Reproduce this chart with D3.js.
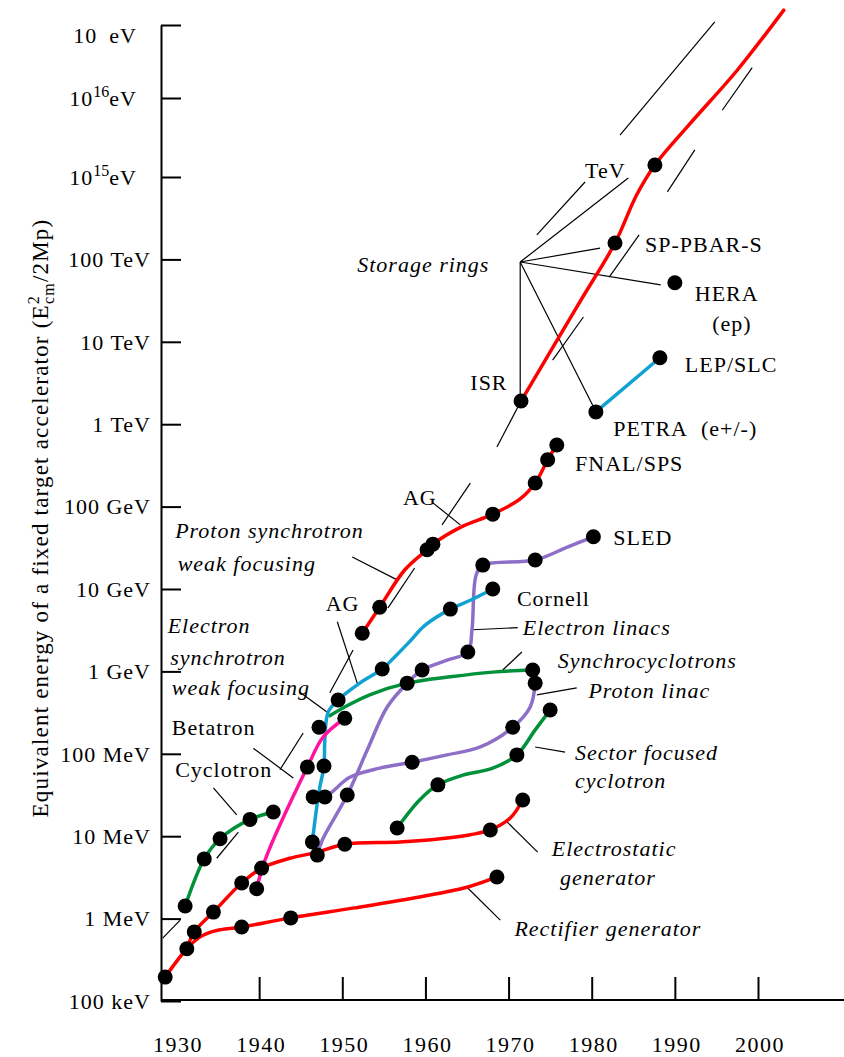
<!DOCTYPE html>
<html>
<head>
<meta charset="utf-8">
<script src="https://cdn.jsdelivr.net/npm/d3@7"></script>
<style>
  body { margin: 0; background: #fff; }
  text { font-family: "Liberation Serif", "Times New Roman", serif; fill: #000; }
</style>
</head>
<body>
<div id="chart"></div>
<script>
// Livingston plot: equivalent fixed-target energy vs year

var svgWidth = 844;
var svgHeight = 1057;

// axis ticks
var yearLabels = [1930, 1940, 1950, 1960, 1970, 1980, 1990, 2000];
var yearTicks = [1940, 1950, 1960, 1970, 1980, 1990, 2000];
var energyTicks = [1e17, 1e16, 1e15, 1e14, 1e13, 1e12, 1e11, 1e10, 1e9, 1e8, 1e7, 1e6, 1e5];
var energyLabels = ["10^\u00a0\u00a0 ^eV", "10^16^eV", "10^15^eV", "100 TeV", "10 TeV", "1 TeV",
  "100 GeV", "10 GeV", "1 GeV", "100 MeV", "10 MeV", "1 MeV", "100 keV"];

// series: [year, energy in eV, marker]
var rectifierGen = [[1928.7, 1.95e5, 1], [1931.3, 4.3e5, 1], [1932.9, 6.0e5, 0], [1934.7, 7.1e5, 0],
  [1937.9, 7.9e5, 1], [1943.8, 1.02e6, 1], [1951.5, 1.35e6, 0], [1959.3, 1.83e6, 0],
  [1965.0, 2.4e6, 0], [1968.6, 3.2e6, 1]];

var electrostaticGen = [[1931.3, 4.3e5, 0], [1932.2, 6.9e5, 1], [1934.5, 1.2e6, 1], [1937.9, 2.7e6, 1],
  [1940.3, 4.1e6, 1], [1943.7, 5.4e6, 0], [1947.0, 6.4e6, 0], [1950.3, 8.0e6, 1], [1956.9, 8.5e6, 0],
  [1961.8, 9.3e6, 0], [1965.4, 1.04e7, 0], [1967.8, 1.19e7, 1], [1970.2, 1.66e7, 0], [1971.7, 2.75e7, 1]];

var cyclotron = [[1931.1, 1.42e6, 1], [1933.4, 5.3e6, 1], [1935.3, 9.3e6, 1], [1938.9, 1.6e7, 1],
  [1941.7, 1.97e7, 1]];

var betatron = [[1939.7, 2.3e6, 1], [1940.7, 5.1e6, 0], [1945.8, 6.9e7, 1], [1947.7, 1.6e8, 0],
  [1950.3, 2.7e8, 1]];

var electronSynchrotron = [[1946.4, 8.5e6, 1], [1946.8, 1.81e7, 0], [1947.3, 3.95e7, 0], [1947.8, 7.1e7, 1],
  [1947.9, 1.47e8, 0], [1948.3, 3.2e8, 0], [1949.5, 4.5e8, 1], [1952.1, 7.2e8, 0], [1954.8, 1.07e9, 1],
  [1956.3, 1.5e9, 0], [1958.1, 2.3e9, 0], [1959.9, 3.6e9, 0], [1963.0, 5.7e9, 1], [1965.4, 7.3e9, 0],
  [1968.1, 1.0e10, 1]];

var synchrocyclotron = [[1948.5, 2.9e8, 0], [1950.3, 3.7e8, 0], [1953.3, 5.2e8, 0], [1957.8, 7.2e8, 0],
  [1963.0, 8.6e8, 0], [1968.1, 9.8e8, 0], [1972.9, 1.04e9, 1]];

var electronLinac = [[1947.0, 5.9e6, 1], [1947.6, 9.0e6, 0], [1950.6, 3.16e7, 1], [1953.0, 1.11e8, 0],
  [1955.4, 3.7e8, 0], [1957.8, 7.2e8, 1], [1959.6, 1.04e9, 1], [1962.6, 1.37e9, 0], [1965.1, 1.72e9, 1],
  [1965.6, 3.2e9, 0], [1966.1, 1.48e10, 0], [1966.9, 1.95e10, 1], [1973.2, 2.25e10, 1],
  [1977.0, 3.2e10, 0], [1980.2, 4.3e10, 1]];

var protonLinac = [[1946.5, 3.0e7, 1], [1947.9, 3.0e7, 1], [1950.9, 5.2e7, 0], [1954.5, 6.7e7, 0],
  [1958.4, 7.9e7, 1], [1962.6, 9.7e7, 0], [1966.6, 1.21e8, 0], [1970.5, 2.1e8, 1], [1972.6, 3.7e8, 0],
  [1973.2, 7.2e8, 1]];

var sectorCyclotron = [[1956.6, 1.26e7, 1], [1959.3, 2.75e7, 0], [1961.5, 4.2e7, 1], [1964.5, 5.5e7, 0],
  [1968.1, 6.7e7, 0], [1971.0, 9.7e7, 1], [1973.2, 1.95e8, 0], [1975.0, 3.4e8, 1]];

var protonSynchrotron = [[1952.4, 2.9e9, 1], [1954.5, 6.0e9, 1], [1957.5, 1.7e10, 0], [1960.2, 3.0e10, 1],
  [1960.9, 3.5e10, 1], [1964.2, 5.6e10, 0], [1968.1, 8.1e10, 1], [1971.4, 1.24e11, 0], [1973.2, 1.93e11, 1],
  [1974.7, 3.7e11, 1], [1975.8, 5.6e11, 1]];

var hadronColliders = [[1971.5, 1.91e12, 1], [1978.7, 3.2e13, 0], [1982.8, 1.58e14, 1], [1985.4, 6.05e14, 0],
  [1987.6, 1.42e15, 1], [1991.8, 4.7e15, 0], [1997.5, 2.4e16, 0], [2003.1, 1.6e17, 0]];

var leptonColliders = [[1980.5, 1.41e12, 1], [1988.2, 6.4e12, 1]];

var singleDots = [[1947.2, 2.1e8], [1990.0, 5.2e13]];

// labels: [text, year, energy]
var uprightLabels = [["Betatron", 1929.5, 2.1e8], ["Cyclotron", 1929.9, 6.4e7], ["TeV", 1979.2, 1.23e15],
  ["SP-PBAR-S", 1986.4, 1.54e14], ["HERA", 1992.4, 3.9e13], ["(ep)", 1994.5, 1.69e13],
  ["LEP/SLC", 1991.2, 5.4e12], ["ISR", 1965.4, 3.2e12], ["PETRA\u00a0 (e+/-)", 1982.6, 9.0e11],
  ["FNAL/SPS", 1978.0, 3.4e11], ["AG", 1957.3, 1.31e11], ["SLED", 1982.6, 4.3e10],
  ["Cornell", 1971.0, 7.8e9], ["AG", 1948.0, 6.8e9]];

var italicLabels = [["Proton synchrotron", 1929.9, 5.2e10], ["weak focusing", 1930.2, 2.07e10],
  ["Electron", 1929.0, 3.66e9], ["synchrotron", 1929.3, 1.5e9], ["weak focusing", 1929.5, 6.5e8],
  ["Storage rings", 1951.8, 8.6e13], ["Electron linacs", 1971.7, 3.4e9],
  ["Synchrocyclotrons", 1975.9, 1.37e9], ["Proton linac", 1979.6, 5.9e8],
  ["Sector focused", 1978.0, 1.05e8], ["cyclotron", 1978.0, 4.8e7], ["Electrostatic", 1975.2, 7.2e6],
  ["generator", 1976.2, 3.2e6], ["Rectifier generator", 1970.7, 7.7e5]];

// thin leader / trend lines: [[year, eV], [year, eV]]
var leaderLines = [
  [[1928.4, 5.8e5], [1930.5, 9.6e5]],
  [[1934.9, 5.4e6], [1937.5, 1.12e7]],
  [[1934.5, 3.85e7], [1937.3, 1.81e7]],
  [[1939.3, 1.17e8], [1944.1, 5.1e7]],
  [[1942.5, 6.4e7], [1945.3, 1.79e8]],
  [[1944.9, 5.6e8], [1948.2, 3.2e8]],
  [[1949.4, 4.0e9], [1951.8, 7.2e8]],
  [[1948.5, 5.5e8], [1951.3, 1.82e9]],
  [[1951.2, 2.44e10], [1956.6, 1.29e10]],
  [[1955.5, 5.9e9], [1958.7, 1.8e10]],
  [[1960.9, 1.11e11], [1964.2, 6.0e10]],
  [[1965.4, 1.93e11], [1962.0, 6.0e10]],
  [[1965.7, 3.2e9], [1971.1, 3.4e9]],
  [[1969.3, 1.04e9], [1971.6, 1.72e9]],
  [[1973.4, 5.2e8], [1978.2, 6.3e8]],
  [[1973.2, 1.21e8], [1976.8, 1.05e8]],
  [[1969.6, 1.57e7], [1973.5, 6.4e6]],
  [[1965.0, 2.4e6], [1969.0, 9.6e5]],
  [[1971.5, 1.91e12], [1968.6, 5.3e11]],
  [[1979.0, 2.0e13], [1975.3, 6.0e12]],
  [[1973.4, 1.98e14], [1979.2, 8.7e14]],
  [[1982.1, 6.1e13], [1985.7, 1.98e14]],
  [[1983.4, 3.4e15], [1994.8, 1.1e17]],
  [[1995.7, 7.0e15], [1999.3, 2.6e16]],
  [[1989.1, 6.6e14], [1992.4, 2.2e15]]
];

// storage rings fan: origin then targets
var fanOrigin = [1971.4, 9.3e13];
var fanTargets = [[1984.4, 9.7e14], [1981.0, 1.37e14], [1988.3, 4.9e13], [1971.4, 2.08e12], [1980.4, 1.49e12]];

var seriesList = [
  { data: rectifierGen, color: "#ff0000" },
  { data: electrostaticGen, color: "#ff0000" },
  { data: cyclotron, color: "#00913a" },
  { data: synchrocyclotron, color: "#00913a" },
  { data: sectorCyclotron, color: "#00913a" },
  { data: electronLinac, color: "#8d6fc8" },
  { data: protonLinac, color: "#8d6fc8" },
  { data: electronSynchrotron, color: "#12a2d2" },
  { data: betatron, color: "#ff129e" },
  { data: protonSynchrotron, color: "#ff0000" },
  { data: hadronColliders, color: "#ff0000" },
  { data: leptonColliders, color: "#12a2d2" }
];

var svg = d3.select("#chart")
  .append("svg")
  .attr("width", svgWidth)
  .attr("height", svgHeight);

var xScale = d3.scaleLinear()
  .domain([1930, 2000])
  .range([176, 758]);

var yScale = d3.scaleLog()
  .domain([1e5, 1e15, 1e16, 1e17])
  .range([1001, 177, 98, 25]);

// axes
var leftAxis = d3.axisRight(yScale)
  .tickValues(energyTicks)
  .tickSize(20)
  .tickSizeOuter(0)
  .tickFormat("");

var yAxisG = svg.append("g")
  .attr("transform", "translate(161,0)")
  .call(leftAxis);
yAxisG.selectAll("path, line").attr("stroke", "#000").attr("stroke-width", 2);

var topTicks = d3.axisTop(xScale)
  .tickValues(yearTicks)
  .tickSize(22)
  .tickFormat("");

var xAxisG = svg.append("g")
  .attr("transform", "translate(0,999)")
  .call(topTicks);
xAxisG.select(".domain").remove();
xAxisG.selectAll("line").attr("stroke", "#000").attr("stroke-width", 2);

svg.append("line")
  .attr("x1", 161).attr("x2", svgWidth)
  .attr("y1", 1000).attr("y2", 1000)
  .attr("stroke", "#000").attr("stroke-width", 2);

// tick labels
svg.append("g").selectAll("text")
  .data(yearLabels)
  .enter()
  .append("text")
  .attr("x", d => xScale(d) + 2)
  .attr("y", 1044)
  .attr("dy", "0.35em")
  .attr("text-anchor", "middle")
  .style("font-size", "22px")
  .style("letter-spacing", "1.5px")
  .text(d => d);

var eLabels = svg.append("g").selectAll("text")
  .data(energyTicks)
  .enter()
  .append("text")
  .attr("x", (d, i) => i < 3 ? 137 : 151)
  .attr("y", (d, i) => yScale(d) + (i === 0 ? 10 : 0))
  .attr("dy", "0.35em")
  .attr("text-anchor", "end")
  .style("font-size", "22px")
  .style("letter-spacing", "1px")
  .style("white-space", "pre");

eLabels.each(function(d, i) {
  var parts = energyLabels[i].split("^");
  var t = d3.select(this);
  t.append("tspan").text(parts[0]);
  if (parts.length > 1) {
    t.append("tspan").attr("dy", -9).style("font-size", "16px").style("letter-spacing", "0px").text(parts[1]);
    t.append("tspan").attr("dy", 9).text(parts[2]);
  }
});

// y axis title
var title = svg.append("text")
  .attr("transform", "translate(40,518) rotate(-90)")
  .attr("text-anchor", "middle")
  .attr("dy", "0.35em")
  .style("font-size", "23px")
  .style("letter-spacing", "1.2px");
title.append("tspan").text("Equivalent energy of a fixed target accelerator (E");
title.append("tspan").attr("dy", -9).style("font-size", "16px").text("2");
title.append("tspan").attr("dx", -9).attr("dy", 15).style("font-size", "16px").text("cm");
title.append("tspan").attr("dy", -6).text("/2Mp)");

// thin lines
var thin = svg.append("g")
  .attr("stroke", "#000")
  .attr("stroke-width", 1.2)
  .attr("fill", "none");

thin.selectAll("line.leader")
  .data(leaderLines)
  .enter()
  .append("line")
  .attr("class", "leader")
  .attr("x1", d => xScale(d[0][0]))
  .attr("y1", d => yScale(d[0][1]))
  .attr("x2", d => xScale(d[1][0]))
  .attr("y2", d => yScale(d[1][1]));

thin.selectAll("line.fan")
  .data(fanTargets)
  .enter()
  .append("line")
  .attr("class", "fan")
  .attr("x1", xScale(fanOrigin[0]))
  .attr("y1", yScale(fanOrigin[1]))
  .attr("x2", d => xScale(d[0]))
  .attr("y2", d => yScale(d[1]));

// series lines
var lineGen = d3.line()
  .x(d => xScale(d[0]))
  .y(d => yScale(d[1]))
  .curve(d3.curveCatmullRom.alpha(0.5));

svg.append("g").selectAll("path")
  .data(seriesList)
  .enter()
  .append("path")
  .attr("d", d => lineGen(d.data))
  .attr("fill", "none")
  .attr("stroke", d => d.color)
  .attr("stroke-width", 3.5)
  .attr("stroke-linecap", "round");

// markers
var markerData = [];
seriesList.forEach(function(s) {
  s.data.forEach(function(p) { if (p[2]) markerData.push(p); });
});
singleDots.forEach(function(p) { markerData.push(p); });

svg.append("g").selectAll("circle")
  .data(markerData)
  .enter()
  .append("circle")
  .attr("cx", d => xScale(d[0]))
  .attr("cy", d => yScale(d[1]))
  .attr("r", 7.5)
  .attr("fill", "#000");

// labels
svg.append("g").selectAll("text")
  .data(uprightLabels)
  .enter()
  .append("text")
  .attr("x", d => xScale(d[1]))
  .attr("y", d => yScale(d[2]))
  .attr("dy", "0.35em")
  .style("font-size", "22px")
  .style("letter-spacing", "1px")
  .text(d => d[0]);

svg.append("g").selectAll("text")
  .data(italicLabels)
  .enter()
  .append("text")
  .attr("x", d => xScale(d[1]))
  .attr("y", d => yScale(d[2]))
  .attr("dy", "0.35em")
  .style("font-size", "22px")
  .style("font-style", "italic")
  .style("letter-spacing", "1px")
  .text(d => d[0]);
</script>
</body>
</html>
